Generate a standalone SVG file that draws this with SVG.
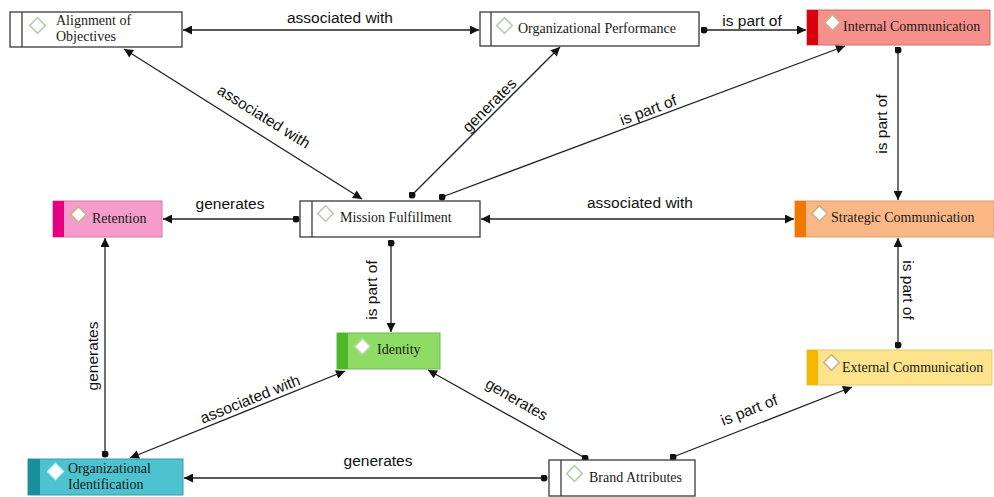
<svg xmlns="http://www.w3.org/2000/svg" width="994" height="497" viewBox="0 0 994 497">
<style>
.box{stroke:#3a3a3a;stroke-width:1.3}
.strip{stroke:#3a3a3a;stroke-width:1.3}
.nl{font-family:"Liberation Serif","Times New Roman",serif;font-size:14px;fill:#1a1a1a}
.el{font-family:"Liberation Sans",Arial,sans-serif;font-size:15.5px;fill:#111}
.dw{fill:#fff;stroke:#b5d0a8;stroke-width:1.6}
.dc{fill:#fff;stroke:#c8b48a;stroke-width:1.6}
.c{stroke:#222;stroke-width:1.3;fill:none}
</style>
<defs>
<marker id="ar" viewBox="0 0 10 10" refX="10" refY="5" markerWidth="10" markerHeight="9" markerUnits="userSpaceOnUse" orient="auto-start-reverse">
<path d="M0,0 L10,5 L0,10 z" fill="#111"/>
</marker>
<marker id="dt" viewBox="0 0 10 10" refX="5" refY="5" markerWidth="7" markerHeight="7" markerUnits="userSpaceOnUse">
<circle cx="5" cy="5" r="5" fill="#111"/>
</marker>
</defs>
<rect width="994" height="497" fill="#fff"/>

<g id="connectors">
<line class="c" x1="183" y1="30" x2="479" y2="30" marker-start="url(#ar)" marker-end="url(#ar)"/>
<text class="el" x="340" y="23" text-anchor="middle">associated with</text>
<line class="c" x1="704" y1="30" x2="806" y2="30" marker-start="url(#dt)" marker-end="url(#ar)"/>
<text class="el" x="752" y="26" text-anchor="middle">is part of</text>
<line class="c" x1="898" y1="50" x2="898" y2="200" marker-start="url(#dt)" marker-end="url(#ar)"/>
<text class="el" transform="translate(887,124) rotate(-90)" text-anchor="middle">is part of</text>
<line class="c" x1="124" y1="49" x2="362" y2="199" marker-start="url(#ar)" marker-end="url(#ar)"/>
<text class="el" transform="translate(261,121) rotate(32)" text-anchor="middle">associated with</text>
<line class="c" x1="412" y1="195" x2="560" y2="47" marker-start="url(#dt)" marker-end="url(#ar)"/>
<text class="el" transform="translate(493,109) rotate(-45)" text-anchor="middle">generates</text>
<line class="c" x1="442" y1="197" x2="845" y2="46" marker-start="url(#dt)" marker-end="url(#ar)"/>
<text class="el" transform="translate(650,115) rotate(-20.5)" text-anchor="middle">is part of</text>
<line class="c" x1="296" y1="219" x2="163" y2="219" marker-start="url(#dt)" marker-end="url(#ar)"/>
<text class="el" x="230" y="209" text-anchor="middle">generates</text>
<line class="c" x1="481" y1="219" x2="794" y2="219" marker-start="url(#ar)" marker-end="url(#ar)"/>
<text class="el" x="640" y="208" text-anchor="middle">associated with</text>
<line class="c" x1="391" y1="243" x2="391" y2="332" marker-start="url(#dt)" marker-end="url(#ar)"/>
<text class="el" transform="translate(377,290) rotate(-90)" text-anchor="middle">is part of</text>
<line class="c" x1="898" y1="345" x2="898" y2="238" marker-start="url(#dt)" marker-end="url(#ar)"/>
<text class="el" transform="translate(903,290) rotate(90)" text-anchor="middle">is part of</text>
<line class="c" x1="105" y1="454" x2="105" y2="238" marker-start="url(#dt)" marker-end="url(#ar)"/>
<text class="el" transform="translate(98,356) rotate(-90)" text-anchor="middle">generates</text>
<line class="c" x1="345" y1="371" x2="130" y2="458" marker-start="url(#ar)" marker-end="url(#ar)"/>
<text class="el" transform="translate(252,404) rotate(-22)" text-anchor="middle">associated with</text>
<line class="c" x1="585" y1="458" x2="428" y2="370" marker-start="url(#dt)" marker-end="url(#ar)"/>
<text class="el" transform="translate(514,404) rotate(30)" text-anchor="middle">generates</text>
<line class="c" x1="673" y1="457" x2="852" y2="387" marker-start="url(#dt)" marker-end="url(#ar)"/>
<text class="el" transform="translate(751,415) rotate(-21.5)" text-anchor="middle">is part of</text>
<line class="c" x1="544" y1="478" x2="184" y2="478" marker-start="url(#dt)" marker-end="url(#ar)"/>
<text class="el" x="378" y="466" text-anchor="middle">generates</text>
</g>

<g id="alignment">
<rect class="box" x="10" y="12" width="172" height="35" fill="#fff"/>
<line class="strip" x1="22" y1="12" x2="22" y2="47"/>
<rect class="dw" x="32" y="20" width="11" height="11" transform="rotate(45 37.5 25.5)"/>
<text class="nl" x="56" y="25" font-size="13.5">Alignment of</text>
<text class="nl" x="56" y="41" font-size="13.5">Objectives</text>
</g>

<g id="orgperformance">
<rect class="box" x="480" y="12" width="219" height="34" fill="#fff"/>
<line class="strip" x1="491" y1="12" x2="491" y2="46"/>
<rect class="dw" x="499" y="20" width="11" height="11" transform="rotate(45 504.5 25.5)"/>
<text class="nl" x="518" y="33" font-size="15">Organizational Performance</text>
</g>

<g id="internalcomm">
<rect x="807" y="10" width="183" height="35" fill="#f5918a" stroke="#c9706a" stroke-width="1"/>
<rect x="807" y="10" width="11" height="35" fill="#d9000f"/>
<rect class="dc" x="827" y="17" width="11" height="11" transform="rotate(45 832.5 22.5)"/>
<text class="nl" x="843" y="31" fill="#3a0a0a">Internal Communication</text>
</g>

<g id="retention">
<rect x="53" y="201" width="109" height="36" fill="#f59ccb" stroke="#d07aa8" stroke-width="1"/>
<rect x="53" y="201" width="11" height="36" fill="#e4007f"/>
<rect class="dc" x="73" y="209" width="11" height="11" transform="rotate(45 78.5 214.5)"/>
<text class="nl" x="92" y="223" font-size="15">Retention</text>
</g>

<g id="mission">
<rect class="box" x="300" y="201" width="180" height="36" fill="#fff"/>
<line class="strip" x1="312" y1="201" x2="312" y2="237"/>
<rect class="dw" x="320" y="208" width="11" height="11" transform="rotate(45 325.5 213.5)"/>
<text class="nl" x="340" y="222" font-size="15">Mission Fulfillment</text>
</g>

<g id="strategiccomm">
<rect x="795" y="201" width="199" height="36" fill="#fbb886" stroke="#d99a68" stroke-width="1"/>
<rect x="795" y="201" width="11" height="36" fill="#f07800"/>
<rect class="dc" x="814" y="208" width="11" height="11" transform="rotate(45 819.5 213.5)"/>
<text class="nl" x="831" y="222" font-size="15.3" fill="#2a1408">Strategic Communication</text>
</g>

<g id="identity">
<rect x="337" y="333" width="103" height="36" fill="#8edb66" stroke="#6dbb4a" stroke-width="1"/>
<rect x="337" y="333" width="11" height="36" fill="#4cb82a"/>
<rect class="dc" x="357" y="341" width="11" height="11" transform="rotate(45 362.5 346.5)" style="stroke:#c0d8b0"/>
<text class="nl" x="377" y="354" font-size="14.5">Identity</text>
</g>

<g id="externalcomm">
<rect x="807" y="350" width="185" height="35" fill="#fde48c" stroke="#e5c86a" stroke-width="1"/>
<rect x="807" y="350" width="11" height="35" fill="#f5b800"/>
<rect class="dc" x="826" y="357" width="11" height="11" transform="rotate(45 831.5 362.5)"/>
<text class="nl" x="842" y="372" font-size="13">External Communication</text>
</g>

<g id="orgidentification">
<rect x="28" y="459" width="155" height="36" fill="#4cc3cf" stroke="#3a9aa5" stroke-width="1"/>
<rect x="28" y="459" width="12" height="36" fill="#1a8e9a"/>
<rect class="dc" x="50" y="466" width="11" height="11" transform="rotate(45 55.5 471.5)" style="stroke:#d8f0f0"/>
<text class="nl" x="68" y="473" font-size="13">Organizational</text>
<text class="nl" x="68" y="489" font-size="13">Identification</text>
</g>

<g id="brandattributes">
<rect class="box" x="549" y="460" width="146" height="36" fill="#fff"/>
<line class="strip" x1="561" y1="460" x2="561" y2="496"/>
<rect class="dw" x="569" y="468" width="11" height="11" transform="rotate(45 574.5 473.5)"/>
<text class="nl" x="589" y="482">Brand Attributes</text>
</g>
</svg>
